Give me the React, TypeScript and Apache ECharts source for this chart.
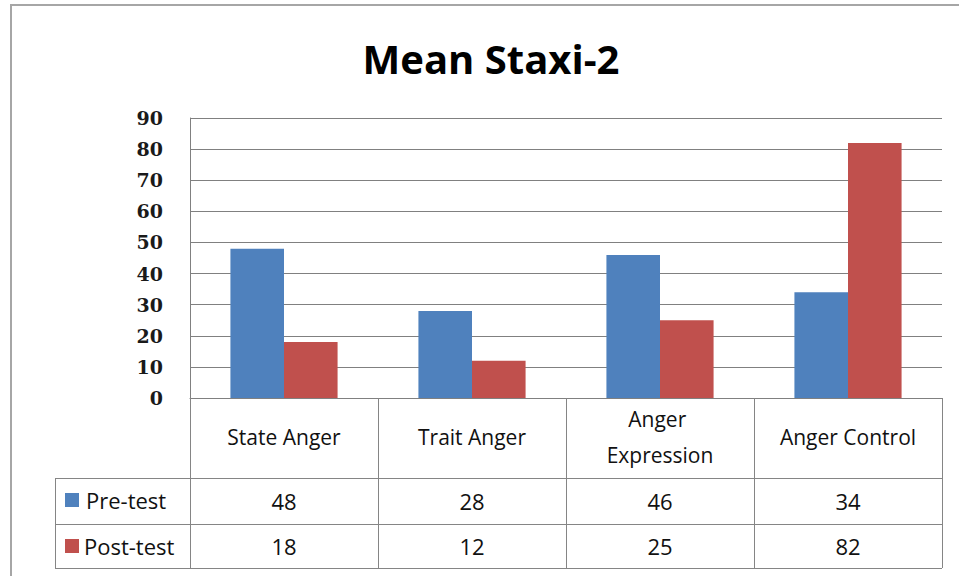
import React, { useEffect, useRef } from 'react';
import * as echarts from 'echarts';

const titleText = 'Mean Staxi-2';
const categories = ['State Anger', 'Trait Anger', 'Anger Expression', 'Anger Control'];
const seriesNames = ['Pre-test', 'Post-test'];
const preTest = [48, 28, 46, 34];
const postTest = [18, 12, 25, 82];
const yMin = 0;
const yMax = 90;
const yInterval = 10;
const seriesColors = ['#4F81BD', '#C0504D'];

const GRID_LINE = '#808080';
const TABLE_LINE = '#858585';
const SANS = '"Open Sans", "Liberation Sans", sans-serif';
const TEXT = '#111111';

export default function App() {
  const ref = useRef<HTMLDivElement>(null);

  useEffect(() => {
    if (!ref.current) return;
    const chart = echarts.init(ref.current, undefined, { renderer: 'svg' });

    const valueRows = [preTest, postTest];
    const valueAxis = (row: number, margin: number) => ({
      type: 'category',
      data: categories,
      position: 'bottom',
      gridIndex: 0,
      axisLine: { show: false },
      axisTick: { show: false },
      splitLine: { show: false },
      axisLabel: {
        interval: 0,
        margin,
        verticalAlign: 'middle',
        fontFamily: SANS,
        fontSize: 22,
        color: TEXT,
        formatter: (_v: string, i: number) => String(valueRows[row][i]),
      },
    });

    const option: any = {
      animation: false,
      backgroundColor: '#ffffff',
      grid: { left: 190, right: 17, top: 118, bottom: 178, containLabel: false },
      xAxis: [
        {
          type: 'category',
          data: categories,
          position: 'bottom',
          axisLine: { show: true, lineStyle: { color: GRID_LINE, width: 1 } },
          axisTick: { show: true, length: 170, lineStyle: { color: TABLE_LINE, width: 1 } },
          splitLine: { show: false },
          axisLabel: {
            interval: 0,
            margin: 39,
            verticalAlign: 'middle',
            width: 150,
            overflow: 'break',
            lineHeight: 36,
            fontFamily: SANS,
            fontSize: 21,
            color: TEXT,
          },
        },
        valueAxis(0, 103),
        valueAxis(1, 148),
      ],
      yAxis: {
        type: 'value',
        min: yMin,
        max: yMax,
        interval: yInterval,
        axisLine: { show: true, lineStyle: { color: GRID_LINE, width: 1 } },
        axisTick: { show: false },
        splitLine: { show: true, lineStyle: { color: GRID_LINE, width: 1 } },
        axisLabel: {
          margin: 27,
          fontFamily: '"DejaVu Serif", serif',
          fontWeight: 'bold',
          fontSize: 19,
          color: '#1a1a1a',
        },
      },
      series: seriesNames.map((name, i) => ({
        name,
        type: 'bar',
        xAxisIndex: 0,
        data: valueRows[i],
        barGap: '0%',
        barCategoryGap: '43%',
        itemStyle: { color: seriesColors[i] },
      })),
      graphic: [
        {
          type: 'rect',
          z: -10,
          shape: { x: 11, y: 5, width: 1200, height: 1200 },
          style: { fill: 'none', stroke: '#a6a6a6', lineWidth: 2 },
        },
        {
          type: 'text',
          x: 491,
          y: 58,
          style: {
            text: titleText,
            textAlign: 'center',
            textVerticalAlign: 'middle',
            fontFamily: SANS,
            fontWeight: 'bold',
            fontSize: 40,
            fill: '#000000',
          },
        },
        { type: 'line', shape: { x1: 55, y1: 478.5, x2: 942, y2: 478.5 }, style: { stroke: TABLE_LINE, lineWidth: 1 } },
        { type: 'line', shape: { x1: 55, y1: 524.5, x2: 942, y2: 524.5 }, style: { stroke: TABLE_LINE, lineWidth: 1 } },
        { type: 'line', shape: { x1: 55, y1: 568.5, x2: 942, y2: 568.5 }, style: { stroke: TABLE_LINE, lineWidth: 1 } },
        { type: 'line', shape: { x1: 55.5, y1: 478, x2: 55.5, y2: 569 }, style: { stroke: TABLE_LINE, lineWidth: 1 } },
        { type: 'rect', shape: { x: 65, y: 493, width: 14, height: 14 }, style: { fill: seriesColors[0] } },
        { type: 'rect', shape: { x: 65, y: 539, width: 14, height: 14 }, style: { fill: seriesColors[1] } },
        {
          type: 'text',
          x: 86,
          y: 500,
          style: { text: seriesNames[0], textVerticalAlign: 'middle', fontFamily: SANS, fontSize: 22, fill: TEXT },
        },
        {
          type: 'text',
          x: 84,
          y: 546,
          style: { text: seriesNames[1], textVerticalAlign: 'middle', fontFamily: SANS, fontSize: 22, fill: TEXT },
        },
      ],
    };

    chart.setOption(option);
    return () => chart.dispose();
  }, []);

  return (
    <div
      ref={ref}
      style={{ position: 'fixed', left: 0, top: 0, width: 959, height: 576, background: '#fff' }}
    />
  );
}
